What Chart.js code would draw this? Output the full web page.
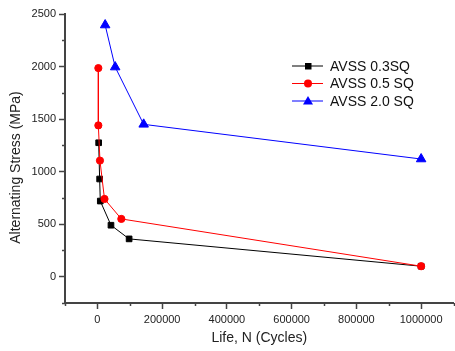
<!DOCTYPE html>
<html>
<head>
<meta charset="utf-8">
<script src="https://cdn.jsdelivr.net/npm/chart.js@4.4.0/dist/chart.umd.min.js"></script>
<style>
  html, body { margin: 0; padding: 0; background: #fff; overflow: hidden; }
  #wrap { width: 460px; height: 351px; }
</style>
</head>
<body>
<div id="wrap"><canvas id="myChart"></canvas></div>
<script>
// data (life in cycles, stress in MPa)
var names = ['AVSS 0.3SQ', 'AVSS 0.5 SQ', 'AVSS 2.0 SQ'];
var life03 = [4000, 7000, 9000, 42000, 98000, 1000000];
var stress03 = [1275, 930, 720, 490, 360, 100];
var life05 = [3000, 3000, 8000, 22000, 74000, 1000000];
var stress05 = [1985, 1440, 1105, 740, 550, 100];
var life20 = [24000, 55000, 143000, 1000000];
var stress20 = [2395, 1995, 1450, 1120];
var xTicks = [0, 200000, 400000, 600000, 800000, 1000000];
var yTicks = [0, 500, 1000, 1500, 2000, 2500];

var FONT = "'Liberation Sans', Arial, sans-serif";
var AXIS = '#444';

function pts(xs, ys) {
    return xs.map(function (x, i) { return { x: x, y: ys[i] }; });
}

// minor ticks, y title, legend with line and marker
var extras = {
    id: 'extras',
    afterDraw: function (chart) {
        var c = chart.ctx;
        var xs = chart.scales.x, ys = chart.scales.y;
        c.save();
        c.strokeStyle = AXIS;
        c.lineWidth = 1.5;
        for (var v = -100000; v <= 1100000; v += 200000) {
            var px = Math.round(xs.getPixelForValue(v)) + 0.5;
            c.beginPath();
            c.moveTo(px, xs.top);
            c.lineTo(px, xs.top + 3);
            c.stroke();
        }
        for (var w = -250; w <= 2250; w += 500) {
            var py = Math.round(ys.getPixelForValue(w)) + 0.5;
            c.beginPath();
            c.moveTo(ys.right, py);
            c.lineTo(ys.right - 3, py);
            c.stroke();
        }

        // y title
        c.save();
        c.translate(16, 167.5);
        c.rotate(-Math.PI / 2);
        c.fillStyle = '#222';
        c.font = '14px ' + FONT;
        c.textAlign = 'center';
        c.textBaseline = 'middle';
        c.fillText('Alternating Stress (MPa)', 0, 0);
        c.restore();

        // legend
        var rows = [66, 83.5, 101];
        chart.data.datasets.forEach(function (ds, i) {
            var y = rows[i];
            c.strokeStyle = ds.borderColor;
            c.lineWidth = 1;
            c.beginPath();
            c.moveTo(292, y);
            c.lineTo(323, y);
            c.stroke();
            c.fillStyle = ds.pointBackgroundColor;
            c.beginPath();
            if (ds.pointStyle === 'rect') {
                c.rect(305, y - 3, 6.5, 6.5);
            } else if (ds.pointStyle === 'circle') {
                c.arc(308, y, 4, 0, Math.PI * 2);
            } else {
                c.moveTo(308, y - 5);
                c.lineTo(313, y + 3.5);
                c.lineTo(303, y + 3.5);
                c.closePath();
            }
            c.fill();
            c.fillStyle = '#111';
            c.font = '14px ' + FONT;
            c.textBaseline = 'middle';
            c.textAlign = 'left';
            c.fillText(ds.label, 330, y + 1);
        });
        c.restore();
    }
};

var ctx = document.getElementById('myChart');
var myChart = new Chart(ctx, {
    type: 'line',
    data: {
        datasets: [{
            label: names[0],
            data: pts(life03, stress03),
            borderColor: '#000000',
            pointBackgroundColor: '#000000',
            pointBorderColor: '#000000',
            pointStyle: 'rect',
            pointRadius: 4,
            borderWidth: 1,
            order: 3
        }, {
            label: names[1],
            data: pts(life05, stress05),
            borderColor: '#ff0000',
            pointBackgroundColor: '#ff0000',
            pointBorderColor: '#ff0000',
            pointStyle: 'circle',
            pointRadius: 3.6,
            borderWidth: 1,
            order: 2
        }, {
            label: names[2],
            data: pts(life20, stress20),
            borderColor: '#0000ff',
            pointBackgroundColor: '#0000ff',
            pointBorderColor: '#0000ff',
            pointStyle: 'triangle',
            pointRadius: 5.5,
            borderWidth: 1,
            order: 1
        }]
    },
    options: {
        responsive: true,
        maintainAspectRatio: false,
        animation: false,
        layout: { padding: { top: 14, right: 2, left: 0, bottom: 0 } },
        scales: {
            x: {
                type: 'linear',
                min: -100000,
                max: 1100000,
                afterBuildTicks: function (s) {
                    s.ticks = xTicks.map(function (v) { return { value: v }; });
                },
                afterFit: function (s) { s.height = 48; },
                ticks: {
                    color: '#222',
                    font: { family: FONT, size: 11 },
                    padding: 4,
                    maxRotation: 0,
                    callback: function (v) { return String(v); }
                },
                grid: { drawOnChartArea: false, tickLength: 6, tickColor: AXIS, tickWidth: 1.5 },
                border: { color: AXIS, width: 2 },
                title: {
                    display: true,
                    text: 'Life, N (Cycles)',
                    color: '#222',
                    font: { family: FONT, size: 14 },
                    padding: { top: 0, bottom: 4 }
                }
            },
            y: {
                min: -250,
                max: 2500,
                afterBuildTicks: function (s) {
                    s.ticks = yTicks.map(function (v) { return { value: v }; });
                },
                afterFit: function (s) { s.width = 65; },
                ticks: {
                    color: '#222',
                    font: { family: FONT, size: 11 },
                    padding: 3,
                    callback: function (v) { return String(v); }
                },
                grid: { drawOnChartArea: false, tickLength: 6, tickColor: AXIS, tickWidth: 1.5 },
                border: { color: AXIS, width: 2 }
            }
        },
        plugins: {
            legend: { display: false },
            tooltip: { enabled: false }
        }
    },
    plugins: [extras]
});
</script>
</body>
</html>
